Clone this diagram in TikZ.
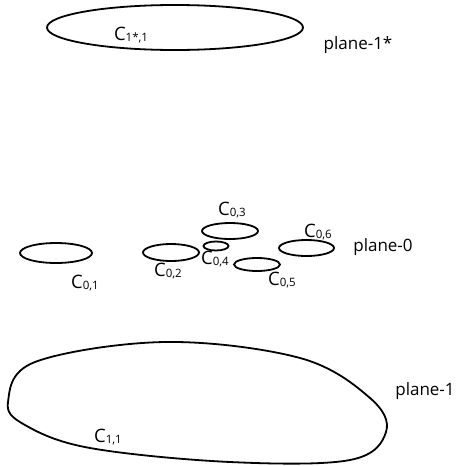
\documentclass[tikz,border=0pt]{standalone}
\usepackage{fontspec}
\setmainfont{Open Sans}
\newcommand{\clab}[1]{{\fontsize{18.5}{18}\selectfont C}\raisebox{-1pt}{\fontsize{11.5}{12}\selectfont #1}}
\begin{document}
\begin{tikzpicture}[x=1pt,y=-1pt,
  outl/.style={line width=1.8pt},
  lab/.style={inner sep=0pt, font=\fontsize{17}{19}\selectfont}]
\useasboundingbox (0,0) rectangle (460,466);
% plane-1*
\draw[outl] (175,27.5) ellipse [x radius=128, y radius=22.5];
\node[lab] (c1s) at (131,35) {\clab{1*,1}};
\node[lab] (p1s) at (358,45) {plane-1*};
% plane-0
\draw[outl] (56,253) ellipse [x radius=36, y radius=10];
\draw[outl] (171,252.5) ellipse [x radius=28, y radius=8.5];
\draw[outl] (230,231) ellipse [x radius=28, y radius=8];
\draw[outl] (216,246) ellipse [x radius=12.5, y radius=4.5];
\draw[outl] (257,264.5) ellipse [x radius=23, y radius=6.5];
\draw[outl] (306.5,248) ellipse [x radius=27.5, y radius=8];
\node[lab] (c01) at (85,283) {\clab{0,1}};
\node[lab] (c02) at (168,271) {\clab{0,2}};
\node[lab] (c03) at (232,210) {\clab{0,3}};
\node[lab] (c04) at (215,259) {\clab{0,4}};
\node[lab] (c05) at (282,280) {\clab{0,5}};
\node[lab] (c06) at (318,232) {\clab{0,6}};
\node[lab] (p0) at (383,247) {plane-0};
% plane-1
\draw[outl] plot[smooth cycle, tension=0.6] coordinates {
  (8,402) (35,362) (165,342) (300,358) (370,398) (386,432) (350,460) (230,462) (90,448) (25,425)};
\node[lab] (c11) at (108,437) {\clab{1,1}};
\node[lab] (p1) at (425,391) {plane-1};
\end{tikzpicture}
\end{document}
